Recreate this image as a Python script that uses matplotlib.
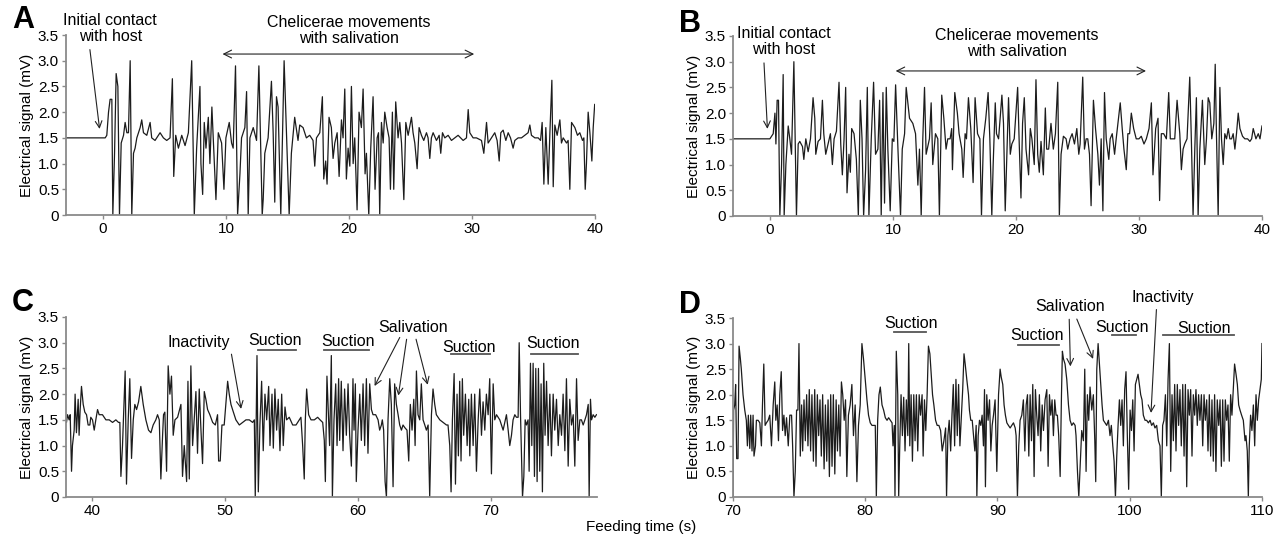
import numpy as np
from matplotlib import pyplot as plt
from matplotlib.ticker import FuncFormatter

plt.rcParams["font.family"] = ["Liberation Sans", "DejaVu Sans"]

# traces: (feeding time in s, electrical signal in mV)
trace_a = np.array([
    (-3.0, 1.5), (0.0, 1.5), (0.19, 1.5), (0.32, 1.55), (0.46, 2.0), (0.59, 2.25),
    (0.73, 2.25), (0.81, 0.0), (0.95, 1.2), (1.08, 2.75), (1.22, 2.5), (1.35, 0.0),
    (1.49, 1.4), (1.68, 1.55), (1.81, 1.8), (1.95, 1.6), (2.08, 1.6), (2.22, 3.0),
    (2.35, 0.0), (2.49, 1.2), (2.62, 1.3), (2.76, 1.5), (3.03, 1.7), (3.16, 1.85),
    (3.30, 1.6), (3.57, 1.55), (3.84, 1.8), (3.97, 1.5), (4.24, 1.45), (4.65, 1.6),
    (4.92, 1.5), (5.19, 1.45), (5.46, 1.5), (5.65, 2.65), (5.76, 0.75), (5.92, 1.55),
    (6.14, 1.3), (6.41, 1.55), (6.68, 1.35), (6.95, 1.6), (7.22, 3.0), (7.43, 0.0),
    (7.62, 1.3), (7.89, 2.5), (7.97, 1.0), (8.11, 0.4), (8.24, 1.8), (8.38, 1.3),
    (8.57, 1.9), (8.70, 1.0), (8.86, 2.1), (8.97, 1.5), (9.19, 0.3), (9.38, 1.6),
    (9.65, 1.4), (9.84, 0.5), (10.0, 1.5), (10.27, 1.8), (10.46, 1.4), (10.59, 1.3),
    (10.78, 2.9), (10.95, 0.0), (11.14, 0.8), (11.27, 1.5), (11.54, 1.7), (11.68, 2.4),
    (11.81, 0.0), (11.95, 1.5), (12.22, 1.7), (12.49, 1.45), (12.68, 2.9), (12.95, 0.0),
    (13.03, 0.3), (13.16, 1.2), (13.43, 1.5), (13.70, 2.6), (13.84, 1.6), (13.97, 0.25),
    (14.11, 2.3), (14.24, 2.1), (14.46, 0.0), (14.73, 3.0), (14.92, 1.6), (15.14, 0.0),
    (15.32, 1.2), (15.59, 1.9), (15.86, 1.45), (16.0, 1.75), (16.27, 1.7), (16.54, 1.5),
    (16.81, 1.55), (17.08, 1.45), (17.22, 0.95), (17.36, 1.5), (17.63, 1.6), (17.84, 2.3),
    (17.95, 0.7), (18.11, 1.05), (18.22, 0.6), (18.38, 1.9), (18.57, 1.7), (18.71, 1.1),
    (18.85, 1.4), (19.04, 1.6), (19.2, 0.75), (19.39, 1.85), (19.52, 1.5), (19.66, 2.45),
    (19.79, 0.7), (19.93, 1.3), (20.07, 0.95), (20.2, 2.5), (20.34, 1.0), (20.47, 1.5),
    (20.66, 0.1), (20.82, 2.0), (21.01, 1.7), (21.15, 2.45), (21.31, 0.8), (21.42, 1.2),
    (21.61, 0.0), (21.77, 1.3), (21.96, 2.3), (22.12, 0.5), (22.29, 1.5), (22.4, 1.6),
    (22.5, 0.0), (22.64, 1.8), (22.78, 1.4), (22.91, 2.0), (23.1, 1.7), (23.26, 1.5),
    (23.37, 0.5), (23.53, 2.0), (23.64, 0.5), (23.8, 2.2), (23.99, 1.5), (24.13, 1.8),
    (24.27, 1.4), (24.46, 0.3), (24.62, 1.8), (24.81, 1.55), (25.08, 1.9), (25.21, 1.6),
    (25.35, 1.4), (25.54, 0.9), (25.7, 1.7), (25.89, 1.55), (26.08, 1.45), (26.3, 1.6),
    (26.43, 1.5), (26.57, 1.1), (26.7, 1.5), (26.84, 1.6), (27.11, 1.45), (27.33, 1.55),
    (27.46, 1.2), (27.6, 1.6), (27.79, 1.5), (28.06, 1.55), (28.33, 1.45), (28.6, 1.5),
    (28.87, 1.55), (29.28, 1.45), (29.55, 1.5), (29.69, 2.05), (29.82, 1.6), (30.09, 1.5),
    (30.36, 1.5), (30.77, 1.45), (30.96, 1.2), (31.18, 1.8), (31.31, 1.4), (31.58, 1.5),
    (31.85, 1.6), (32.04, 1.45), (32.21, 1.05), (32.34, 1.6), (32.53, 1.65), (32.75, 1.45),
    (32.94, 1.6), (33.13, 1.5), (33.34, 1.3), (33.48, 1.45), (33.75, 1.5), (34.02, 1.5),
    (34.29, 1.55), (34.56, 1.6), (34.7, 1.75), (34.83, 1.55), (35.11, 1.5), (35.38, 1.5),
    (35.57, 1.45), (35.7, 1.8), (35.84, 0.6), (36.0, 1.7), (36.19, 0.6), (36.33, 1.6),
    (36.49, 2.62), (36.6, 0.55), (36.73, 1.75), (36.92, 1.55), (37.14, 1.85), (37.27, 1.4),
    (37.41, 1.5), (37.68, 1.4), (37.81, 1.45), (37.95, 0.5), (38.09, 1.8), (38.36, 1.7),
    (38.57, 1.55), (38.76, 1.6), (38.98, 1.45), (39.09, 1.5), (39.2, 0.5), (39.3, 1.0),
    (39.44, 2.0), (39.58, 1.6), (39.74, 1.05), (39.85, 1.7), (39.97, 2.15),
])

trace_b = np.array([
    (-3.0, 1.5), (0.0, 1.5), (0.14, 1.55), (0.27, 1.6), (0.41, 2.0), (0.49, 1.4),
    (0.59, 2.25), (0.70, 2.25), (0.81, 0.0), (0.95, 1.0), (1.08, 2.75), (1.16, 0.0),
    (1.30, 1.0), (1.49, 1.75), (1.62, 1.5), (1.76, 1.2), (1.95, 3.0), (2.16, 0.0),
    (2.30, 1.4), (2.43, 1.45), (2.65, 1.35), (2.76, 1.1), (2.92, 1.5), (3.11, 1.25),
    (3.30, 1.5), (3.51, 2.3), (3.65, 1.9), (3.73, 1.2), (3.92, 1.45), (4.11, 1.5),
    (4.27, 2.25), (4.38, 1.6), (4.54, 1.2), (4.73, 1.4), (4.92, 1.6), (5.08, 1.0),
    (5.22, 1.5), (5.41, 1.65), (5.62, 2.6), (5.76, 1.4), (5.89, 0.8), (6.03, 1.5),
    (6.16, 2.5), (6.27, 0.45), (6.43, 1.2), (6.54, 0.85), (6.65, 1.7), (6.84, 1.6),
    (7.03, 1.1), (7.19, 0.0), (7.35, 2.25), (7.49, 1.5), (7.62, 0.0), (7.78, 0.9),
    (7.92, 2.5), (8.05, 0.0), (8.24, 1.5), (8.43, 2.6), (8.59, 1.2), (8.78, 1.3),
    (8.92, 2.25), (9.05, 0.0), (9.19, 2.4), (9.32, 0.25), (9.46, 2.5), (9.59, 1.3),
    (9.78, 0.1), (9.95, 1.5), (10.08, 1.45), (10.22, 2.55), (10.41, 1.3), (10.62, 0.0),
    (10.76, 1.3), (10.95, 1.6), (11.08, 2.5), (11.35, 1.9), (11.62, 1.8), (11.84, 1.6),
    (12.03, 0.6), (12.16, 1.3), (12.30, 0.0), (12.43, 1.5), (12.57, 2.5), (12.70, 1.2),
    (12.97, 1.5), (13.11, 2.2), (13.24, 1.0), (13.46, 1.6), (13.65, 1.5), (13.78, 0.0),
    (13.97, 2.35), (14.14, 1.9), (14.32, 1.3), (14.46, 1.5), (14.65, 1.5), (14.78, 1.7),
    (14.84, 0.9), (15.03, 2.4), (15.24, 2.0), (15.38, 1.6), (15.60, 1.3), (15.71, 0.75),
    (15.87, 1.6), (15.98, 1.5), (16.14, 2.3), (16.33, 1.7), (16.52, 0.65), (16.68, 2.3),
    (16.88, 1.6), (17.07, 1.5), (17.20, 0.0), (17.36, 1.5), (17.55, 1.9), (17.74, 2.4),
    (17.88, 1.5), (18.04, 0.0), (18.15, 1.0), (18.32, 2.2), (18.42, 1.6), (18.59, 1.5),
    (18.86, 2.35), (18.99, 1.8), (19.13, 0.1), (19.24, 1.0), (19.40, 2.3), (19.54, 1.2),
    (19.67, 1.4), (19.86, 1.5), (20.14, 2.5), (20.27, 1.4), (20.41, 0.35), (20.54, 1.8),
    (20.68, 2.3), (20.82, 1.3), (21.03, 0.8), (21.17, 1.7), (21.30, 1.5), (21.49, 1.0),
    (21.63, 2.65), (21.77, 1.2), (21.90, 0.85), (22.04, 1.45), (22.23, 0.8), (22.39, 2.1),
    (22.50, 1.3), (22.66, 1.3), (22.85, 1.8), (23.04, 1.3), (23.21, 1.6), (23.40, 2.6),
    (23.53, 0.0), (23.67, 1.2), (23.86, 1.55), (24.08, 1.5), (24.21, 1.3), (24.40, 1.5),
    (24.57, 1.6), (24.76, 1.4), (24.95, 1.7), (25.11, 1.2), (25.22, 1.4), (25.43, 2.7),
    (25.57, 1.3), (25.71, 1.5), (25.84, 1.5), (25.98, 1.2), (26.11, 0.2), (26.30, 2.25),
    (26.47, 1.7), (26.66, 1.2), (26.79, 0.6), (26.93, 1.5), (27.07, 0.1), (27.20, 2.4),
    (27.34, 1.5), (27.55, 1.1), (27.66, 1.5), (27.83, 1.6), (28.02, 1.2), (28.15, 1.5),
    (28.29, 1.8), (28.48, 2.2), (28.64, 1.7), (28.78, 1.3), (28.97, 0.9), (29.10, 1.6),
    (29.24, 1.6), (29.38, 2.0), (29.57, 1.7), (29.78, 1.5), (30.0, 1.5), (30.19, 1.55),
    (30.41, 1.4), (30.60, 1.5), (30.82, 1.7), (31.01, 2.2), (31.14, 0.8), (31.36, 1.7),
    (31.55, 1.9), (31.68, 0.3), (31.82, 1.6), (32.01, 1.6), (32.23, 1.5), (32.42, 2.4),
    (32.55, 1.5), (32.72, 1.5), (32.91, 1.5), (33.10, 2.25), (33.32, 1.6), (33.45, 0.9),
    (33.59, 1.3), (33.72, 1.4), (33.91, 1.5), (34.13, 2.7), (34.27, 1.4), (34.40, 0.0),
    (34.54, 1.3), (34.67, 2.3), (34.81, 0.0), (34.95, 1.3), (35.16, 2.25), (35.35, 1.0),
    (35.49, 1.5), (35.63, 2.3), (35.76, 2.2), (35.92, 1.5), (36.09, 1.8), (36.20, 2.95),
    (36.30, 1.6), (36.44, 0.0), (36.58, 2.5), (36.71, 1.5), (36.85, 1.0), (36.98, 1.6),
    (37.12, 1.5), (37.26, 1.7), (37.39, 1.5), (37.53, 1.5), (37.66, 1.6), (37.80, 1.3),
    (37.93, 1.6), (38.07, 2.0), (38.21, 1.7), (38.42, 1.55), (38.61, 1.5), (38.83, 1.5),
    (39.02, 1.45), (39.16, 1.5), (39.29, 1.7), (39.51, 1.5), (39.70, 1.6), (39.84, 1.5),
    (40.0, 1.75),
])

trace_c = np.array([
    (37.94, 1.53), (38.04, 1.45), (38.12, 1.6), (38.24, 1.5), (38.32, 1.6), (38.42, 0.5),
    (38.49, 1.0), (38.62, 1.3), (38.69, 2.0), (38.79, 1.25), (38.92, 1.9), (38.99, 1.2),
    (39.07, 1.7), (39.17, 2.15), (39.30, 1.8), (39.42, 1.65), (39.55, 1.6), (39.67, 1.4),
    (39.80, 1.4), (39.87, 1.55), (40.0, 1.5), (40.13, 1.3), (40.25, 1.5), (40.38, 1.7),
    (40.50, 1.6), (40.75, 1.6), (41.01, 1.5), (41.26, 1.5), (41.51, 1.45), (41.76, 1.5),
    (41.96, 1.45), (42.06, 1.45), (42.14, 0.4), (42.26, 1.0), (42.46, 2.45), (42.56, 0.25),
    (42.69, 1.5), (42.81, 2.3), (42.94, 0.75), (43.07, 1.5), (43.19, 1.8), (43.32, 1.7),
    (43.47, 1.85), (43.64, 2.15), (43.82, 1.8), (44.02, 1.5), (44.22, 1.3), (44.40, 1.25),
    (44.57, 1.4), (44.77, 1.5), (44.90, 1.6), (45.03, 1.5), (45.15, 0.35), (45.28, 1.2),
    (45.35, 1.6), (45.45, 1.65), (45.58, 0.5), (45.70, 2.55), (45.83, 2.0), (45.95, 2.35),
    (46.08, 1.2), (46.21, 1.5), (46.41, 1.55), (46.66, 1.8), (46.78, 0.4), (46.91, 1.0),
    (47.09, 0.3), (47.19, 2.25), (47.29, 0.35), (47.41, 2.55), (47.54, 1.0), (47.66, 1.5),
    (47.79, 2.05), (47.91, 0.85), (48.04, 2.1), (48.17, 1.3), (48.29, 0.65), (48.42, 2.05),
    (48.54, 1.9), (48.67, 1.7), (48.84, 1.6), (49.05, 1.45), (49.25, 1.4), (49.42, 1.6),
    (49.50, 0.7), (49.62, 0.7), (49.75, 1.4), (49.92, 1.4), (50.18, 2.25), (50.30, 2.0),
    (50.43, 1.8), (50.55, 1.7), (50.80, 1.5), (51.06, 1.4), (51.31, 1.45), (51.56, 1.5),
    (51.81, 1.5), (52.06, 1.45), (52.19, 1.5), (52.26, 0.0), (52.39, 2.75), (52.49, 0.1),
    (52.61, 1.4), (52.74, 2.25), (52.86, 0.9), (52.99, 2.0), (53.12, 1.5), (53.27, 2.15),
    (53.37, 1.0), (53.52, 2.0), (53.62, 0.95), (53.74, 2.1), (53.87, 1.3), (53.99, 1.9),
    (54.12, 0.9), (54.25, 2.0), (54.37, 1.0), (54.50, 1.75), (54.62, 1.5), (54.82, 1.55),
    (55.08, 1.4), (55.33, 1.4), (55.58, 1.5), (55.70, 1.55), (55.83, 1.0), (55.95, 0.35),
    (56.03, 1.5), (56.13, 2.1), (56.28, 1.6), (56.46, 1.5), (56.71, 1.5), (56.96, 1.55),
    (57.14, 1.5), (57.34, 1.45), (57.46, 1.1), (57.54, 0.3), (57.66, 2.35), (57.86, 1.0),
    (57.99, 2.75), (58.07, 0.0), (58.19, 1.5), (58.32, 2.2), (58.42, 1.0), (58.54, 2.3),
    (58.62, 1.1), (58.74, 2.25), (58.87, 0.9), (58.99, 2.1), (59.12, 1.2), (59.25, 2.2),
    (59.37, 1.2), (59.50, 0.6), (59.62, 2.3), (59.70, 1.3), (59.80, 2.2), (59.87, 0.3),
    (60.0, 1.3), (60.13, 2.0), (60.25, 1.1), (60.38, 2.2), (60.50, 1.0), (60.63, 2.3),
    (60.75, 0.85), (60.88, 2.2), (61.01, 1.7), (61.13, 1.6), (61.33, 1.6), (61.51, 1.5),
    (61.63, 1.3), (61.76, 1.4), (61.83, 1.5), (61.93, 1.3), (62.04, 0.3), (62.14, 0.0),
    (62.26, 1.5), (62.39, 2.3), (62.51, 1.8), (62.64, 0.2), (62.76, 2.2), (62.89, 1.8),
    (63.02, 1.6), (63.14, 1.4), (63.27, 1.3), (63.39, 1.4), (63.52, 1.35), (63.69, 1.3),
    (63.82, 0.7), (63.94, 1.8), (64.07, 1.3), (64.20, 1.9), (64.30, 1.0), (64.40, 2.45),
    (64.52, 1.6), (64.65, 1.5), (64.77, 2.2), (64.90, 1.5), (65.03, 1.4), (65.15, 1.3),
    (65.28, 1.4), (65.40, 0.0), (65.53, 1.6), (65.65, 2.1), (65.78, 1.8), (65.90, 1.6),
    (66.16, 1.5), (66.41, 1.45), (66.66, 1.4), (66.78, 1.4), (66.91, 1.0), (67.01, 0.1),
    (67.11, 1.5), (67.24, 2.4), (67.34, 0.25), (67.46, 2.0), (67.56, 0.8), (67.66, 2.25),
    (67.76, 0.7), (67.86, 2.3), (67.96, 1.2), (68.09, 2.0), (68.22, 1.0), (68.34, 1.9),
    (68.42, 0.8), (68.54, 2.0), (68.67, 1.0), (68.79, 2.0), (68.92, 0.5), (69.05, 1.5),
    (69.17, 2.1), (69.30, 1.2), (69.42, 1.85), (69.55, 1.3), (69.67, 2.0), (69.80, 1.6),
    (69.92, 2.3), (70.05, 0.45), (70.18, 2.2), (70.30, 1.5), (70.43, 1.6), (70.68, 1.5),
    (70.93, 1.3), (71.18, 1.6), (71.31, 1.3), (71.43, 1.0), (71.56, 1.2), (71.68, 1.5),
    (71.81, 1.6), (71.93, 1.55), (72.06, 1.55), (72.14, 3.0), (72.24, 1.6), (72.39, 0.0),
    (72.49, 0.4), (72.59, 1.5), (72.69, 1.4), (72.81, 1.5), (72.89, 0.5), (72.99, 2.6),
    (73.09, 1.0), (73.19, 2.6), (73.29, 0.4), (73.39, 2.5), (73.49, 0.3), (73.59, 2.5),
    (73.69, 0.5), (73.79, 2.2), (73.89, 0.1), (73.99, 2.6), (74.09, 1.2), (74.20, 2.25),
    (74.32, 1.0), (74.45, 2.0), (74.57, 0.8), (74.70, 2.0), (74.82, 1.3), (74.95, 1.9),
    (75.08, 1.0), (75.20, 1.6), (75.33, 1.2), (75.45, 2.0), (75.58, 0.9), (75.70, 2.3),
    (75.83, 0.6), (75.95, 1.9), (76.08, 1.4), (76.21, 1.6), (76.33, 0.6), (76.46, 2.3),
    (76.58, 1.1), (76.71, 1.5), (76.83, 1.5), (76.96, 1.4), (77.09, 1.5), (77.21, 1.6),
    (77.34, 1.8), (77.41, 0.0), (77.51, 1.9), (77.59, 1.5), (77.71, 1.6), (77.84, 1.55),
    (77.96, 1.6),
])

trace_d = np.array([
    (70.0, 0.0), (70.05, 1.7), (70.13, 1.8), (70.20, 2.2), (70.28, 0.75), (70.38, 0.75),
    (70.46, 2.95), (70.56, 2.7), (70.63, 2.5), (70.76, 2.0), (70.89, 1.7), (71.01, 1.5),
    (71.09, 1.0), (71.16, 1.6), (71.27, 0.95), (71.34, 1.6), (71.44, 0.9), (71.52, 1.6),
    (71.59, 0.8), (71.70, 1.0), (71.77, 1.5), (71.90, 1.5), (72.03, 1.45), (72.15, 1.0),
    (72.23, 1.8), (72.33, 2.6), (72.43, 1.4), (72.53, 1.45), (72.66, 1.5), (72.78, 1.6),
    (72.91, 1.0), (73.04, 1.8), (73.16, 2.25), (73.24, 1.5), (73.34, 1.8), (73.44, 1.1),
    (73.54, 2.0), (73.65, 2.45), (73.75, 1.3), (73.85, 1.6), (73.95, 1.2), (74.05, 1.55),
    (74.18, 1.0), (74.30, 1.6), (74.43, 1.6), (74.51, 1.0), (74.61, 0.0), (74.71, 0.5),
    (74.81, 1.7), (74.91, 1.7), (74.99, 3.0), (75.09, 0.8), (75.19, 1.8), (75.27, 0.9),
    (75.37, 1.9), (75.47, 1.1), (75.57, 2.0), (75.67, 1.0), (75.77, 2.1), (75.87, 0.9),
    (75.97, 2.0), (76.08, 0.7), (76.18, 2.1), (76.28, 0.6), (76.38, 2.0), (76.48, 1.2),
    (76.58, 1.9), (76.68, 0.8), (76.78, 2.0), (76.89, 0.55), (76.99, 1.8), (77.09, 0.7),
    (77.19, 1.9), (77.29, 0.4), (77.39, 2.0), (77.49, 0.6), (77.59, 2.0), (77.70, 0.45),
    (77.80, 1.9), (77.90, 0.9), (78.0, 1.8), (78.10, 0.8), (78.20, 2.25), (78.30, 2.0),
    (78.41, 1.5), (78.51, 1.9), (78.61, 0.4), (78.73, 1.6), (78.86, 1.8), (78.99, 2.2),
    (79.11, 1.2), (79.24, 1.8), (79.37, 0.3), (79.49, 1.4), (79.62, 1.8), (79.75, 3.0),
    (79.87, 2.7), (80.0, 2.3), (80.13, 1.9), (80.25, 1.6), (80.38, 1.45), (80.51, 1.4),
    (80.63, 1.4), (80.76, 1.4), (80.84, 0.0), (80.94, 1.5), (81.04, 2.0), (81.14, 2.15),
    (81.27, 1.8), (81.39, 1.7), (81.52, 1.55), (81.65, 1.5), (81.77, 1.55), (81.90, 1.5),
    (82.03, 1.45), (82.10, 1.0), (82.20, 1.4), (82.25, 0.0), (82.35, 2.85), (82.46, 2.0),
    (82.53, 0.0), (82.61, 1.0), (82.71, 2.0), (82.81, 1.2), (82.91, 1.95), (83.01, 0.9),
    (83.11, 1.9), (83.22, 1.2), (83.29, 3.0), (83.37, 1.0), (83.47, 2.0), (83.57, 0.7),
    (83.67, 2.0), (83.77, 1.1), (83.87, 2.0), (83.97, 0.9), (84.08, 2.0), (84.18, 1.6),
    (84.30, 2.0), (84.38, 0.8), (84.48, 1.9), (84.58, 1.3), (84.68, 2.0), (84.78, 2.95),
    (84.89, 2.8), (84.99, 2.4), (85.09, 2.0), (85.19, 1.8), (85.32, 1.5), (85.44, 1.4),
    (85.57, 1.4), (85.70, 1.3), (85.82, 0.9), (85.95, 1.1), (86.08, 1.35), (86.15, 0.0),
    (86.25, 1.2), (86.35, 1.5), (86.46, 0.9), (86.56, 1.6), (86.66, 2.2), (86.76, 1.0),
    (86.86, 2.3), (86.96, 1.2), (87.06, 2.2), (87.16, 1.0), (87.27, 1.6), (87.37, 2.1),
    (87.47, 2.8), (87.56, 2.6), (87.68, 2.3), (87.81, 2.0), (87.88, 1.7), (87.98, 1.5),
    (88.09, 1.5), (88.19, 1.2), (88.29, 0.9), (88.39, 1.4), (88.44, 0.0), (88.54, 1.2),
    (88.64, 1.5), (88.74, 1.4), (88.84, 1.6), (88.94, 1.0), (89.02, 2.1), (89.09, 0.2),
    (89.19, 2.0), (89.29, 1.5), (89.40, 1.9), (89.50, 0.9), (89.60, 1.4), (89.70, 1.6),
    (89.82, 1.9), (89.95, 0.5), (90.08, 2.0), (90.20, 2.5), (90.28, 2.35), (90.40, 2.2),
    (90.50, 1.8), (90.60, 1.6), (90.71, 1.45), (90.83, 1.4), (90.96, 1.35), (91.08, 1.4),
    (91.21, 1.45), (91.34, 1.35), (91.41, 1.2), (91.51, 0.0), (91.61, 1.0), (91.71, 1.5),
    (91.84, 1.6), (91.96, 1.9), (92.07, 0.9), (92.17, 1.8), (92.27, 2.0), (92.37, 0.8),
    (92.47, 2.0), (92.57, 1.1), (92.67, 2.2), (92.77, 0.4), (92.87, 2.1), (92.97, 1.6),
    (93.07, 1.2), (93.17, 2.0), (93.27, 0.9), (93.38, 1.8), (93.48, 1.3), (93.60, 1.9),
    (93.73, 2.1), (93.83, 0.6), (93.93, 2.0), (94.03, 1.6), (94.13, 1.9), (94.23, 1.2),
    (94.33, 1.9), (94.43, 1.6), (94.53, 1.6), (94.63, 1.2), (94.74, 0.4), (94.84, 2.0),
    (94.91, 2.85), (94.99, 2.7), (95.11, 2.6), (95.24, 2.3), (95.37, 1.8), (95.49, 1.5),
    (95.62, 1.4), (95.74, 1.45), (95.87, 1.4), (95.94, 1.2), (96.05, 0.5), (96.15, 0.0),
    (96.25, 0.6), (96.37, 1.3), (96.50, 1.1), (96.60, 2.5), (96.70, 0.5), (96.80, 2.0),
    (96.90, 1.5), (97.00, 2.15), (97.13, 1.7), (97.25, 2.0), (97.36, 1.1), (97.43, 0.3),
    (97.51, 2.5), (97.61, 3.0), (97.71, 2.6), (97.81, 2.2), (97.91, 1.8), (98.01, 1.5),
    (98.14, 1.45), (98.26, 1.4), (98.39, 1.5), (98.51, 1.2), (98.61, 1.4), (98.72, 1.0),
    (98.82, 0.7), (98.92, 0.0), (99.02, 0.8), (99.12, 1.4), (99.22, 1.9), (99.32, 1.4),
    (99.42, 1.9), (99.52, 1.0), (99.62, 2.1), (99.72, 2.45), (99.82, 1.2), (99.92, 0.15),
    (100.03, 1.7), (100.13, 1.3), (100.23, 1.9), (100.33, 0.9), (100.43, 2.2), (100.53, 2.3),
    (100.63, 2.4), (100.73, 2.2), (100.83, 2.0), (100.93, 1.9), (101.03, 1.6), (101.16, 1.5),
    (101.28, 1.5), (101.41, 1.45), (101.54, 1.5), (101.66, 1.4), (101.79, 1.45), (101.91, 1.35),
    (102.04, 1.4), (102.17, 1.1), (102.29, 1.0), (102.39, 0.0), (102.49, 1.4), (102.59, 1.5),
    (102.70, 2.0), (102.80, 1.0), (102.90, 2.3), (103.00, 3.0), (103.10, 0.5), (103.20, 2.0),
    (103.30, 1.1), (103.40, 2.2), (103.50, 0.9), (103.60, 2.2), (103.70, 1.4), (103.80, 2.1),
    (103.90, 1.0), (104.01, 2.2), (104.11, 0.8), (104.21, 2.2), (104.31, 0.2), (104.41, 2.1),
    (104.51, 1.6), (104.61, 2.1), (104.71, 0.8), (104.81, 2.0), (104.91, 1.6), (105.01, 2.1),
    (105.11, 1.4), (105.21, 2.0), (105.31, 1.5), (105.42, 2.0), (105.52, 1.0), (105.62, 2.0),
    (105.72, 1.5), (105.82, 1.9), (105.92, 0.9), (106.02, 2.0), (106.12, 0.8), (106.22, 1.9),
    (106.32, 0.7), (106.42, 2.0), (106.52, 0.5), (106.62, 1.9), (106.73, 1.4), (106.83, 1.9),
    (106.93, 0.6), (107.03, 1.9), (107.13, 0.7), (107.23, 1.9), (107.33, 1.5), (107.43, 1.8),
    (107.53, 0.7), (107.63, 2.0), (107.73, 1.6), (107.83, 2.1), (107.93, 2.6), (108.04, 2.4),
    (108.14, 2.2), (108.24, 1.8), (108.34, 1.7), (108.46, 1.6), (108.59, 1.5), (108.72, 1.1),
    (108.79, 1.2), (108.89, 0.9), (108.97, 0.0), (109.04, 1.0), (109.14, 1.6), (109.24, 1.3),
    (109.35, 1.8), (109.45, 1.0), (109.55, 2.0), (109.65, 1.5), (109.75, 1.9), (109.85, 2.1),
    (109.95, 2.3), (110.0, 3.0),
])

panel_letters = ["A", "B", "C", "D"]
x_limits = [(-3, 40), (-3, 40), (38, 78), (70, 110)]
x_ticks = [[0, 10, 20, 30, 40], [0, 10, 20, 30, 40], [40, 50, 60, 70], [70, 80, 90, 100, 110]]
y_ticks = [0, 0.5, 1.0, 1.5, 2.0, 2.5, 3.0, 3.5]

# (label, text x, text y, underline x0, underline x1, underline y)
suction_c = [
    ("Suction", 53.76, 3.05, 52.43, 55.33, 2.86),
    ("Suction", 59.27, 3.03, 57.46, 60.85, 2.86),
    ("Suction", 68.34, 2.91, 67.0, 69.95, 2.78),
    ("Suction", 74.67, 2.98, 73.04, 76.55, 2.78),
]
suction_d = [
    ("Suction", 83.5, 3.4, 82.16, 84.58, 3.22),
    ("Suction", 93.0, 3.16, 91.56, 94.66, 2.98),
    ("Suction", 99.45, 3.32, 98.67, 100.51, 3.17),
    ("Suction", 105.63, 3.3, 102.53, 107.87, 3.17),
]

fig = plt.figure(figsize=(12.83, 5.37), dpi=100)
boxes = [
    [0.0514, 0.5996, 0.4124, 0.3352],
    [0.5713, 0.5978, 0.4123, 0.3352],
    [0.0514, 0.0745, 0.4139, 0.3352],
    [0.5713, 0.0745, 0.4123, 0.3333],
]
letter_y = [1.083, 1.067, 1.078, 1.072]
traces = [trace_a, trace_b, trace_c, trace_d]
axes = []
spine_col = "#8a8a8a"

for i, box in enumerate(boxes):
    ax = fig.add_axes(box)
    tr = traces[i]
    ax.plot(tr[:, 0], tr[:, 1], color="#1c1c1c", lw=0.9)
    ax.set_xlim(*x_limits[i])
    ax.set_ylim(0, 3.5)
    ax.set_xticks(x_ticks[i])
    ax.set_yticks(y_ticks)
    ax.yaxis.set_major_formatter(FuncFormatter(lambda v, p: "0" if v == 0 else f"{v:.1f}"))
    for s in ["top", "right"]:
        ax.spines[s].set_visible(False)
    for s in ["left", "bottom"]:
        ax.spines[s].set_color(spine_col)
        ax.spines[s].set_linewidth(1.3)
    ax.tick_params(axis="both", colors=spine_col, labelcolor="black", labelsize=11,
                   length=3, width=1.0, pad=2)
    ax.set_ylabel("Electrical signal (mV)", fontsize=11, labelpad=3)
    ax.text(-0.102, letter_y[i], panel_letters[i], transform=ax.transAxes, fontsize=22,
            fontweight="bold", ha="left", va="center")
    axes.append(ax)

ax_a, ax_b, ax_c, ax_d = axes
arrow = dict(arrowstyle="->", color="#222222", lw=0.8, mutation_scale=12)
darrow = dict(arrowstyle="<->", color="#222222", lw=0.8, mutation_scale=14)
fs = 11.5

# A
ax_a.text(0.6, 3.62, "Initial contact\nwith host", ha="center", va="center", fontsize=fs,
          linespacing=1.1)
ax_a.annotate("", xy=(-0.24, 1.62), xytext=(-1.08, 3.27), arrowprops=arrow,
              annotation_clip=False)
ax_a.text(20.0, 3.58, "Chelicerae movements\nwith salivation", ha="center", va="center",
          fontsize=fs, linespacing=1.1)
ax_a.annotate("", xy=(30.4, 3.13), xytext=(9.5, 3.13), arrowprops=darrow,
              annotation_clip=False)

# B
ax_b.text(1.14, 3.4, "Initial contact\nwith host", ha="center", va="center", fontsize=fs,
          linespacing=1.1)
ax_b.annotate("", xy=(-0.19, 1.64), xytext=(-0.49, 3.03), arrowprops=arrow,
              annotation_clip=False)
ax_b.text(20.1, 3.35, "Chelicerae movements\nwith salivation", ha="center", va="center",
          fontsize=fs, linespacing=1.1)
ax_b.annotate("", xy=(30.8, 2.82), xytext=(10.0, 2.82), arrowprops=darrow,
              annotation_clip=False)

# C
ax_c.text(48.04, 3.0, "Inactivity", ha="center", va="center", fontsize=fs)
ax_c.annotate("", xy=(51.23, 1.66), xytext=(50.43, 2.83), arrowprops=arrow)
ax_c.text(64.12, 3.3, "Salivation", ha="center", va="center", fontsize=fs)
for (x0, y0, x1, y1) in [(63.24, 3.15, 61.15, 2.11), (63.69, 3.12, 63.01, 1.92),
                         (64.32, 3.12, 65.3, 2.13)]:
    ax_c.annotate("", xy=(x1, y1), xytext=(x0, y0), arrowprops=arrow)

# D
ax_d.text(95.52, 3.72, "Salivation", ha="center", va="center", fontsize=fs)
for (x0, y0, x1, y1) in [(95.42, 3.53, 95.52, 2.5), (95.92, 3.53, 97.31, 2.65)]:
    ax_d.annotate("", xy=(x1, y1), xytext=(x0, y0), arrowprops=arrow,
                  annotation_clip=False)
ax_d.text(102.5, 3.91, "Inactivity", ha="center", va="center", fontsize=fs)
ax_d.annotate("", xy=(101.6, 1.59), xytext=(102.03, 3.72), arrowprops=arrow,
              annotation_clip=False)

for ax, marks in [(ax_c, suction_c), (ax_d, suction_d)]:
    for label, tx, ty, u0, u1, uy in marks:
        ax.text(tx, ty, label, ha="center", va="center", fontsize=fs)
        ax.plot([u0, u1], [uy, uy], color="#555555", lw=1.3, clip_on=False)

fig.text(0.5, 0.019, "Feeding time (s)", ha="center", va="center", fontsize=11)

fig.savefig("out.png", dpi=100)
